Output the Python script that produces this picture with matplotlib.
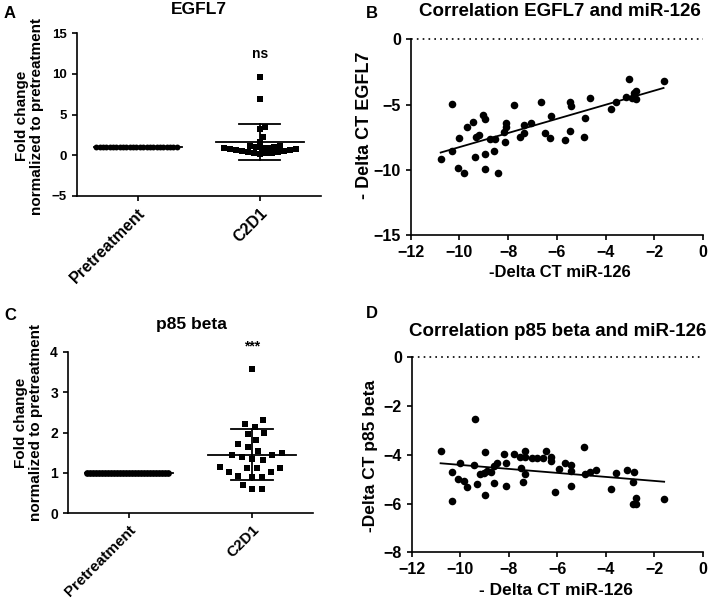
import matplotlib
matplotlib.use('Agg')
import matplotlib.pyplot as plt
import numpy as np

plt.rcParams['font.family'] = ['Liberation Sans', 'DejaVu Sans']
plt.rcParams['font.weight'] = 'bold'
plt.rcParams['axes.labelweight'] = 'bold'
plt.rcParams['axes.linewidth'] = 1.2
plt.rcParams['xtick.major.width'] = 1.2
plt.rcParams['ytick.major.width'] = 1.2
plt.rcParams['xtick.major.size'] = 3.5
plt.rcParams['ytick.major.size'] = 3.5

W, H = 709, 598

######################
# DATA
######################

groups = ['Pretreatment', 'C2D1']

# panel A - EGFL7 fold change
egfl7_pre = [1.0] * 25
egfl7_c2d1 = [9.57, 6.86, 3.49, 3.16, 2.26, 1.64, 1.15, 1.08, 1.02, 0.98, 0.93, 0.88, 0.83,
              0.78, 0.72, 0.66, 0.60, 0.55, 0.50, 0.44, 0.38, 0.32, 0.27, 0.22, 0.17]

# panel C - p85 beta fold change
p85_pre = [1.0] * 28
p85_c2d1 = [3.56, 2.31, 2.20, 2.14, 1.98, 1.96, 1.81, 1.71, 1.65, 1.55, 1.50, 1.44, 1.44, 1.39,
            1.34, 1.32, 1.15, 1.13, 1.13, 1.11, 1.03, 1.01, 0.92, 0.89, 0.89, 0.70, 0.59, 0.59]

# panel B - EGFL7 vs miR-126
egfl7_mir = [-10.77, -10.31, -10.32, -10.00, -10.05, -9.82, -9.70, -9.46, -9.38, -9.32, -9.18, -9.03,
             -8.95, -8.97, -8.93, -8.76, -8.57, -8.54, -8.42, -8.19, -8.09, -8.09, -8.11, -7.77,
             -7.50, -7.36, -7.34, -7.07, -6.64, -6.50, -6.28, -6.26, -5.68, -5.46, -5.41, -5.45,
             -4.89, -4.86, -4.64, -3.78, -3.58, -3.16, -3.04, -2.91, -2.84, -2.77, -2.76, -1.62]
egfl7_dct = [-9.20, -4.96, -8.54, -7.59, -9.84, -10.27, -6.70, -6.36, -9.00, -7.51, -7.31, -5.80,
             -6.13, -8.82, -9.97, -7.67, -8.56, -7.67, -10.22, -7.13, -6.44, -6.75, -7.90, -5.03,
             -7.46, -7.21, -6.59, -6.44, -4.83, -7.16, -7.54, -5.88, -7.72, -4.83, -5.09, -7.00,
             -7.51, -6.06, -4.50, -5.34, -4.78, -4.40, -3.04, -4.47, -4.14, -3.94, -4.55, -3.19]

# panel D - p85 beta vs miR-126
p85_mir = [-10.81, -10.36, -10.36, -10.02, -10.08, -9.85, -9.72, -9.44, -9.40, -9.33, -9.20, -9.04,
           -8.96, -8.96, -8.89, -8.74, -8.60, -8.59, -8.48, -8.20, -8.11, -8.11, -7.77, -7.53,
           -7.51, -7.43, -7.35, -7.34, -7.34, -7.05, -6.82, -6.61, -6.48, -6.27, -6.25, -6.10,
           -5.93, -5.69, -5.44, -5.44, -5.45, -4.92, -4.87, -4.66, -4.40, -3.79, -3.57, -3.14,
           -2.85, -2.90, -2.88, -2.74, -2.74, -1.60]
p85_dct = [-3.84, -4.72, -5.89, -4.32, -4.99, -5.07, -5.33, -4.42, -2.52, -5.21, -4.79, -4.73,
           -3.90, -5.65, -4.66, -4.69, -4.46, -5.14, -4.35, -3.97, -4.32, -5.26, -3.97, -4.08,
           -4.55, -5.10, -4.79, -3.83, -4.08, -4.14, -4.14, -4.14, -3.84, -4.08, -4.24, -5.51,
           -4.58, -4.35, -4.42, -4.65, -5.28, -3.66, -4.79, -4.69, -4.62, -5.42, -4.76, -4.62,
           -4.70, -5.13, -6.02, -5.76, -6.02, -5.81]


def px_rect(left, top, right, bottom):
    return [left / W, 1 - bottom / H, (right - left) / W, (bottom - top) / H]


def swarm_offsets(values, x_px, y_px, diam):
    # simple beeswarm: lowest value in the middle, others pushed sideways
    values = np.asarray(values)
    cands = [0.0]
    for k in np.arange(0.5, 80, 0.5):
        cands += [k, -k]
    placed = []
    offsets = np.zeros(len(values))
    for i in np.argsort(values, kind='stable'):
        y = values[i] * y_px
        for c in cands:
            if all((c - px) ** 2 + (y - py) ** 2 >= diam ** 2 for px, py in placed):
                break
        placed.append((c, y))
        offsets[i] = c / x_px
    return offsets


def style_axes(ax):
    ax.spines['top'].set_visible(False)
    ax.spines['right'].set_visible(False)


def dot_plot(ax, pre, post, x_px, y_px, msize, diam, label_fs):
    style_axes(ax)
    pre_x = np.linspace(-0.34, 0.32, len(pre))
    ax.scatter(pre_x, pre, s=msize, marker='o', color='black', linewidths=0, zorder=3)
    post_x = 1 + swarm_offsets(post, x_px, y_px, diam)
    ax.scatter(post_x, post, s=msize, marker='s', color='black', linewidths=0, zorder=3)
    for i, vals in enumerate([pre, post]):
        m = np.mean(vals)
        sd = np.std(vals, ddof=1)
        ax.plot([i - 0.36, i + 0.36], [m, m], color='black', lw=1.3, zorder=4)
        if sd > 0:
            ax.plot([i, i], [m - sd, m + sd], color='black', lw=1.3, zorder=4)
            ax.plot([i - 0.17, i + 0.17], [m + sd, m + sd], color='black', lw=1.3, zorder=4)
            ax.plot([i - 0.17, i + 0.17], [m - sd, m - sd], color='black', lw=1.3, zorder=4)
    ax.set_xlim(-0.5, 1.5)
    ax.set_xticks([0, 1])
    ax.set_xticklabels(groups, rotation=45, ha='right', rotation_mode='anchor', fontsize=label_fs)


def corr_plot(ax, xv, yv):
    style_axes(ax)
    ax.scatter(xv, yv, s=30, color='black', linewidths=0, zorder=3)
    slope, icpt = np.polyfit(xv, yv, 1)
    xs = np.array([min(xv), max(xv)])
    ax.plot(xs, slope * xs + icpt, color='black', lw=1.3, zorder=4)
    ax.axhline(0, color='black', ls=(0, (1, 2.5)), lw=1.2, clip_on=False)
    ax.set_xlim(-12, 0)
    ax.set_xticks(np.arange(-12, 1, 2))
    ax.tick_params(labelsize=11.5)


fig = plt.figure(figsize=(W / 100, H / 100), dpi=100, facecolor='w')

# A
axA = fig.add_axes(px_rect(76.7, 33.3, 320.7, 195.7))
dot_plot(axA, egfl7_pre, egfl7_c2d1, 121.6, 8.12, 18, 6.0, 11.5)
axA.set_ylim(-5, 15)
axA.set_yticks([-5, 0, 5, 10, 15])
axA.tick_params(axis='y', labelsize=9.5)
axA.set_ylabel('Fold change\nnormalized to pretreatment', fontsize=11, linespacing=1.1)
axA.yaxis.set_label_coords(-0.135, 0.49)
axA.text(1, 12.5, 'ns', ha='center', va='center', fontsize=10)

# C
axC = fig.add_axes(px_rect(67.7, 351.7, 313.3, 513.3))
dot_plot(axC, p85_pre, p85_c2d1, 121.3, 40.4, 24, 10.0, 11)
axC.set_ylim(0, 4)
axC.set_yticks([0, 1, 2, 3, 4])
axC.tick_params(axis='y', labelsize=10)
axC.set_ylabel('Fold change\nnormalized to pretreatment', fontsize=11, linespacing=1.1)
axC.yaxis.set_label_coords(-0.10, 0.56)
axC.text(1, 4.12, '***', ha='center', va='center', fontsize=10, clip_on=False)

# B
axB = fig.add_axes(px_rect(410.7, 39.3, 703.0, 235.0))
corr_plot(axB, egfl7_mir, egfl7_dct)
axB.set_ylim(-15, 0)
axB.set_yticks([-15, -10, -5, 0])
axB.set_ylabel('- Delta CT EGFL7', fontsize=13)
axB.yaxis.set_label_coords(-0.13, 0.56)
axB.set_xlabel('-Delta CT miR-126', fontsize=12, va='top')
axB.xaxis.set_label_coords(0.511, -0.153)

# D
axD = fig.add_axes(px_rect(411.7, 357.3, 703.0, 552.3))
corr_plot(axD, p85_mir, p85_dct)
axD.set_ylim(-8, 0)
axD.set_yticks([-8, -6, -4, -2, 0])
axD.set_ylabel('-Delta CT p85 beta', fontsize=12.5)
axD.yaxis.set_label_coords(-0.115, 0.494)
axD.set_xlabel('- Delta CT miR-126', fontsize=12.5, va='top')
axD.xaxis.set_label_coords(0.495, -0.157)

# titles and panel letters
titles = [('EGFL7', 198.5, 9, 12.5), ('Correlation EGFL7 and miR-126', 560, 11, 13.5),
          ('p85 beta', 191, 325, 12.5), ('Correlation p85 beta and miR-126', 558, 331, 13.5)]
for txt, x, y, fs in titles:
    fig.text(x / W, 1 - y / H, txt, ha='center', va='center', fontsize=fs, fontweight='bold')

for txt, x, y in [('A', 10, 14), ('B', 372, 13), ('C', 10, 315), ('D', 372, 314)]:
    fig.text(x / W, 1 - y / H, txt, ha='center', va='center', fontsize=12, fontweight='bold')

fig.savefig('out.png', dpi=100)
plt.close(fig)
